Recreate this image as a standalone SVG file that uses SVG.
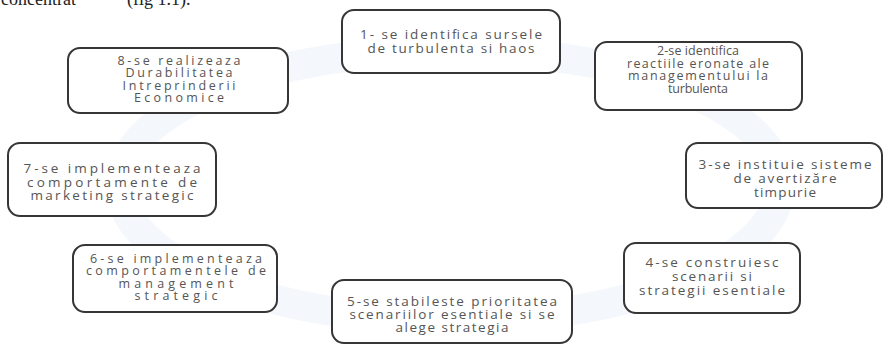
<svg xmlns="http://www.w3.org/2000/svg" width="884" height="346" viewBox="0 0 884 346">
  <style>
    .box { fill: #ffffff; stroke: #363636; stroke-width: 2; }
    .lbl { font-family: "Open Sans", "Liberation Sans", Arial, sans-serif; font-size: 13.5px; fill: #555555; text-anchor: middle; }
    .sm { font-size: 12.5px; }
    .head { font-family: "Liberation Serif", "Times New Roman", serif; font-size: 18px; fill: #222222; }
    .ring { fill: none; stroke: #e4eef7; stroke-width: 30; opacity: 0.4; }
  </style>

  <rect x="0" y="0" width="884" height="346" fill="#ffffff"/>

  <!-- running text cut at the top edge -->
  <text class="head" x="1" y="5">concentrat</text>
  <text class="head" x="127" y="5">(fig 1.1).</text>

  <!-- faint cycle ring behind the steps -->
  <g id="connectors">
    <ellipse class="ring" cx="450" cy="185" rx="330" ry="135"/>
  </g>

  <g id="step1">
    <rect class="box" x="342" y="10" width="218" height="63" rx="12"/>
    <text class="lbl" x="451" y="39" textLength="182" lengthAdjust="spacing">1- se identifica sursele</text>
    <text class="lbl" x="451" y="53" textLength="167" lengthAdjust="spacing">de turbulenta si haos</text>
  </g>

  <g id="step2">
    <rect class="box" x="595" y="42" width="207" height="68" rx="12"/>
    <text class="lbl sm" x="698" y="55" textLength="82" lengthAdjust="spacing">2-se identifica</text>
    <text class="lbl sm" x="698" y="67.5" textLength="142" lengthAdjust="spacing">reactiile eronate ale</text>
    <text class="lbl sm" x="698" y="80" textLength="140" lengthAdjust="spacing">managementului la</text>
    <text class="lbl sm" x="698" y="92.5" textLength="60" lengthAdjust="spacing">turbulenta</text>
  </g>

  <g id="step3">
    <rect class="box" x="686" y="143" width="196" height="65" rx="12"/>
    <text class="lbl" x="785" y="169" textLength="173" lengthAdjust="spacing">3-se instituie sisteme</text>
    <text class="lbl" x="785" y="183" textLength="103" lengthAdjust="spacing">de avertizăre</text>
    <text class="lbl" x="785" y="197" textLength="62" lengthAdjust="spacing">timpurie</text>
  </g>

  <g id="step4">
    <rect class="box" x="624" y="243" width="176" height="70" rx="12"/>
    <text class="lbl" x="712" y="267" textLength="133" lengthAdjust="spacing">4-se construiesc</text>
    <text class="lbl" x="712" y="281" textLength="80" lengthAdjust="spacing">scenarii si</text>
    <text class="lbl" x="712" y="295" textLength="146" lengthAdjust="spacing">strategii esentiale</text>
  </g>

  <g id="step5">
    <rect class="box" x="332" y="280" width="240" height="63" rx="12"/>
    <text class="lbl" x="452" y="306" textLength="210" lengthAdjust="spacing">5-se stabileste prioritatea</text>
    <text class="lbl" x="452" y="319" textLength="205" lengthAdjust="spacing">scenariilor esentiale si se</text>
    <text class="lbl" x="452" y="332" textLength="113" lengthAdjust="spacing">alege strategia</text>
  </g>

  <g id="step6">
    <rect class="box" x="73" y="245" width="204" height="67" rx="12"/>
    <text class="lbl sm" x="176" y="262.5" textLength="172" lengthAdjust="spacing">6-se implementeaza</text>
    <text class="lbl sm" x="176" y="275" textLength="180" lengthAdjust="spacing">comportamentele de</text>
    <text class="lbl sm" x="176" y="287.5" textLength="115" lengthAdjust="spacing">management</text>
    <text class="lbl sm" x="176" y="300" textLength="83" lengthAdjust="spacing">strategic</text>
  </g>

  <g id="step7">
    <rect class="box" x="8" y="143" width="208" height="73" rx="12"/>
    <text class="lbl" x="112" y="173" textLength="177" lengthAdjust="spacing">7-se implementeaza</text>
    <text class="lbl" x="112" y="187" textLength="170" lengthAdjust="spacing">comportamente de</text>
    <text class="lbl" x="112" y="200" textLength="163" lengthAdjust="spacing">marketing strategic</text>
  </g>

  <g id="step8">
    <rect class="box" x="68" y="48" width="220" height="65" rx="12"/>
    <text class="lbl sm" x="179" y="64.5" textLength="123" lengthAdjust="spacing">8-se realizeaza</text>
    <text class="lbl sm" x="179" y="77" textLength="107" lengthAdjust="spacing">Durabilitatea</text>
    <text class="lbl sm" x="179" y="89.5" textLength="113" lengthAdjust="spacing">Intreprinderii</text>
    <text class="lbl sm" x="179" y="102" textLength="90" lengthAdjust="spacing">Economice</text>
  </g>
</svg>
